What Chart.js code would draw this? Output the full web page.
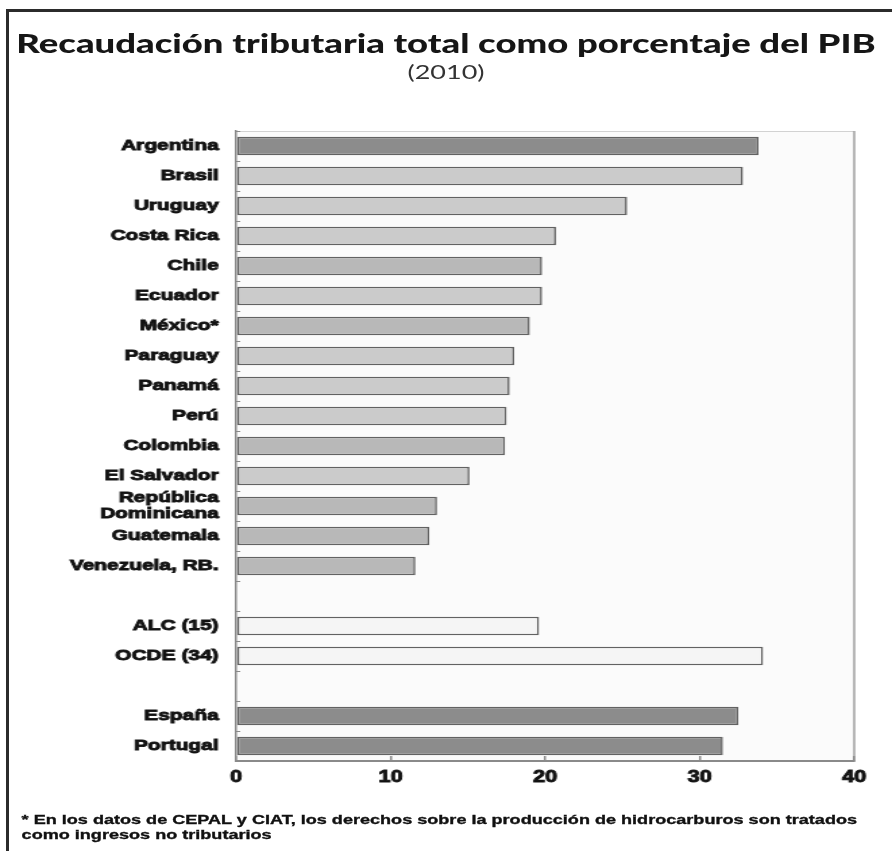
<!DOCTYPE html>
<html>
    <head>
        <meta charset="UTF-8">
        <script src="https://cdn.jsdelivr.net/npm/chart.js@4.4.1/dist/chart.umd.min.js"></script>
        <title> Recaudación tributaria </title>
        <style>
            html, body { margin: 0; padding: 0; background: #fff; overflow: hidden; width: 892px; height: 851px; }
            .frame { position: absolute; left: 6px; top: 9px; width: 900px; height: 900px;
                     border-top: 3px solid #2b2b2b; border-left: 3px solid #2b2b2b; }
            /* the original picture is stretched sideways, so the whole thing is drawn narrow and scaled */
            .wrap { position: absolute; left: 0; top: 0; width: 661px; height: 851px;
                    transform: scaleX(1.3495); transform-origin: 0 0; }
            .wrap canvas { position: absolute; left: 0; top: 0; }
            .title { position: absolute; left: 0; width: 661px; text-align: center; color: #161616; white-space: nowrap; }
            .t1 { top: 26px; font: 900 27px "Lato"; }
            .t2 { top: 59px; font: 20px "Lato"; color: #333; }
            .note { position: absolute; left: 16px; top: 812px; font: bold 13.4px "Liberation Sans";
                    line-height: 15px; color: #111; white-space: nowrap; -webkit-text-stroke: 0.35px #111; }
        </style>
    </head>

    <body>
        <div class="frame"></div>
        <div class="wrap">
            <canvas id="main-plot" width="661" height="851"></canvas>
            <div class="title t1">Recaudación tributaria total como porcentaje del PIB</div>
            <div class="title t2">(2010)</div>
            <div class="note">* En los datos de CEPAL y CIAT, los derechos sobre la producción de hidrocarburos son tratados<br>como ingresos no tributarios</div>
        </div>

        <script>
            // datos (% del PIB, 2010)
            const countries = ['Argentina', 'Brasil', 'Uruguay', 'Costa Rica', 'Chile', 'Ecuador', 'México*',
                               'Paraguay', 'Panamá', 'Perú', 'Colombia', 'El Salvador', ['República', 'Dominicana'],
                               'Guatemala', 'Venezuela, RB.', '', 'ALC (15)', 'OCDE (34)', '', 'España', 'Portugal'];
            const taxRevenue = [33.8, 32.8, 25.3, 20.7, 19.8, 19.8, 19.0,
                                18.0, 17.7, 17.5, 17.4, 15.1, 13.0,
                                12.5, 11.6, null, 19.6, 34.1, null, 32.5, 31.5];
            const shadeGroup = ['dark', 'light', 'light', 'light', 'mid', 'light', 'mid',
                                'light', 'light', 'light', 'mid', 'light', 'mid',
                                'mid', 'mid', null, 'pale', 'pale', null, 'dark', 'dark'];
            const xTicks = [0, 10, 20, 30, 40];

            const shades = { dark: '#8c8c8c', mid: '#b8b8b8', light: '#cbcbcb', pale: '#f5f5f5' };

            // fondo y bordes del área del gráfico
            const plotFrame = {
                id: 'plotFrame',
                beforeDraw(chart) {
                    const { ctx, chartArea: a } = chart;
                    ctx.save();
                    ctx.fillStyle = '#fbfbfb';
                    ctx.fillRect(a.left, a.top, a.right - a.left, a.bottom - a.top);
                    ctx.strokeStyle = '#d2d2d2';
                    ctx.lineWidth = 1;
                    ctx.beginPath();
                    ctx.moveTo(a.left, a.top + 0.5);
                    ctx.lineTo(a.right, a.top + 0.5);
                    ctx.stroke();
                    ctx.strokeStyle = '#a5a5a5';
                    ctx.lineWidth = 1.6;
                    ctx.beginPath();
                    ctx.moveTo(a.right, a.top);
                    ctx.lineTo(a.right, a.bottom);
                    ctx.stroke();
                    ctx.restore();
                }
            };

            window.onload = () =>
            {
                const ctx = document.getElementById('main-plot').getContext('2d');

                new Chart(ctx,
                {
                    type: 'bar',
                    data:
                    {
                        labels: countries,
                        datasets:
                        [{
                            data: taxRevenue,
                            backgroundColor: shadeGroup.map(g => g ? shades[g] : 'transparent'),
                            borderColor: '#626262',
                            borderWidth: 1.6,
                            borderSkipped: false,
                            barPercentage: 0.62,
                            categoryPercentage: 1
                        }]
                    },
                    options: {
                        indexAxis: 'y',
                        responsive: false,
                        animation: false,
                        devicePixelRatio: 1,
                        layout: { padding: { top: 131, left: 0, right: 28, bottom: 60 } },
                        plugins: {
                            legend: { display: false },
                            tooltip: { enabled: false }
                        },
                        scales: {
                            x: {
                                min: xTicks[0],
                                max: xTicks[xTicks.length - 1],
                                afterBuildTicks: s => { s.ticks = xTicks.map(v => ({ value: v })); },
                                afterFit: s => { s.height = 30; },
                                border: { color: '#8a8a8a', width: 2 },
                                grid: { drawOnChartArea: false, tickLength: -5, color: '#8a8a8a', lineWidth: 1.5 },
                                ticks: { padding: 12, color: '#111', textStrokeColor: '#111', textStrokeWidth: 0.9,
                                         font: { family: 'Liberation Sans', weight: 'bold', size: 16 } }
                            },
                            y: {
                                afterFit: s => { s.width = 175; },
                                border: { color: '#8a8a8a', width: 1.5 },
                                grid: { drawOnChartArea: false, tickLength: -3, color: '#8a8a8a', lineWidth: 1 },
                                ticks: { padding: 16, color: '#111', autoSkip: false,
                                         textStrokeColor: '#111', textStrokeWidth: 0.9,
                                         font: { family: 'Liberation Sans', weight: 'bold', size: 15.5, lineHeight: 1.05 } }
                            }
                        }
                    },
                    plugins: [plotFrame]
                });
            }
        </script>
    </body>
</html>
